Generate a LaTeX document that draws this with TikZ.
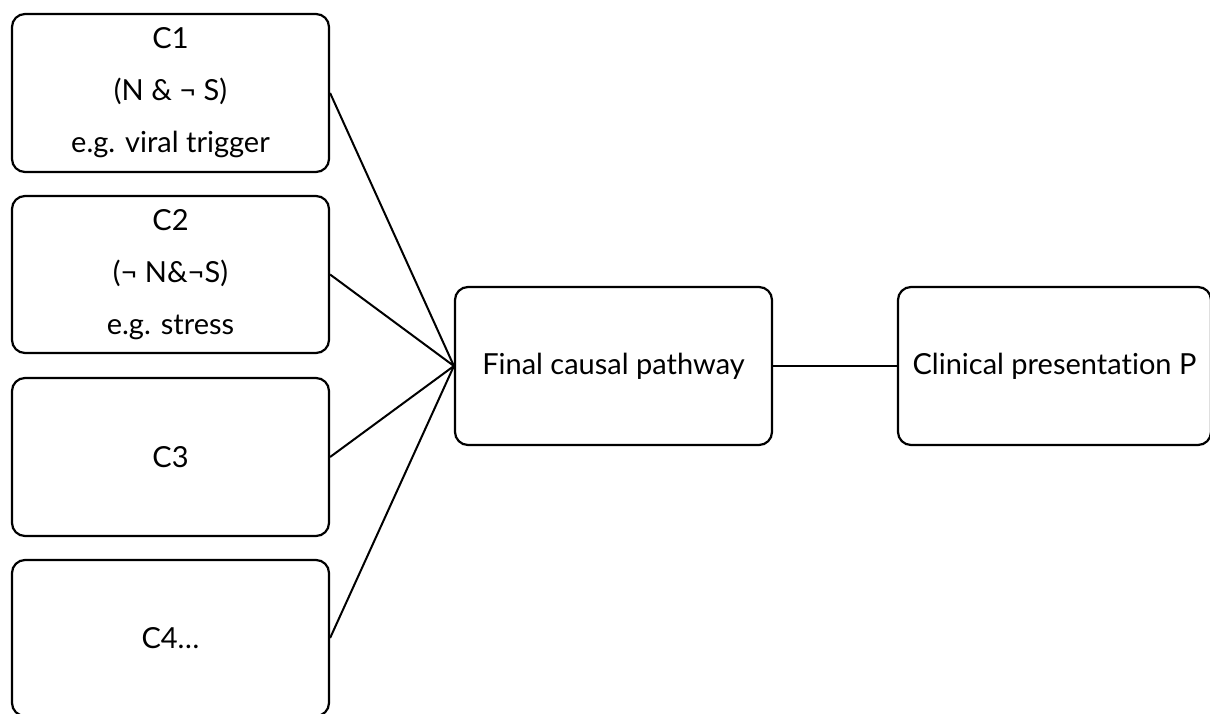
\documentclass[tikz,border=0pt]{standalone}
\usepackage{fontspec}
\setmainfont{Lato}[Ligatures={NoCommon,NoRare,NoContextual}]
\begin{document}
\begin{tikzpicture}[x=1pt,y=-1pt,
  cbox/.style={draw=black,line width=2.2pt,rounded corners=13pt,align=center,
    inner sep=0pt,font=\fontsize{29pt}{52pt}\selectfont},
  link/.style={draw=black,line width=2pt}]
\useasboundingbox (0,0) rectangle (1210,714);
\node[cbox,minimum width=317pt,minimum height=158pt] (c1) at (170.5,93) {C1\\(N \& ¬ S)\\e.g. viral trigger};
\node[cbox,minimum width=317pt,minimum height=157pt] (c2) at (170.5,274.5) {C2\\(¬ N\&¬S)\\e.g. stress};
\node[cbox,minimum width=317pt,minimum height=158pt] (c3) at (170.5,457) {C3};
\node[cbox,minimum width=317pt,minimum height=156pt] (c4) at (170.5,638) {C4\dots};
\node[cbox,minimum width=317pt,minimum height=158pt] (fp) at (613.5,366) {Final causal pathway};
\node[cbox,minimum width=313pt,minimum height=158pt] (cp) at (1054.5,366) {Clinical presenta\kern0ptt\kern0ption P};
\draw[link] (c1.east) -- (fp.west);
\draw[link] (c2.east) -- (fp.west);
\draw[link] (c3.east) -- (fp.west);
\draw[link] (c4.east) -- (fp.west);
\draw[link] (fp.east) -- (cp.west);
\end{tikzpicture}
\end{document}
